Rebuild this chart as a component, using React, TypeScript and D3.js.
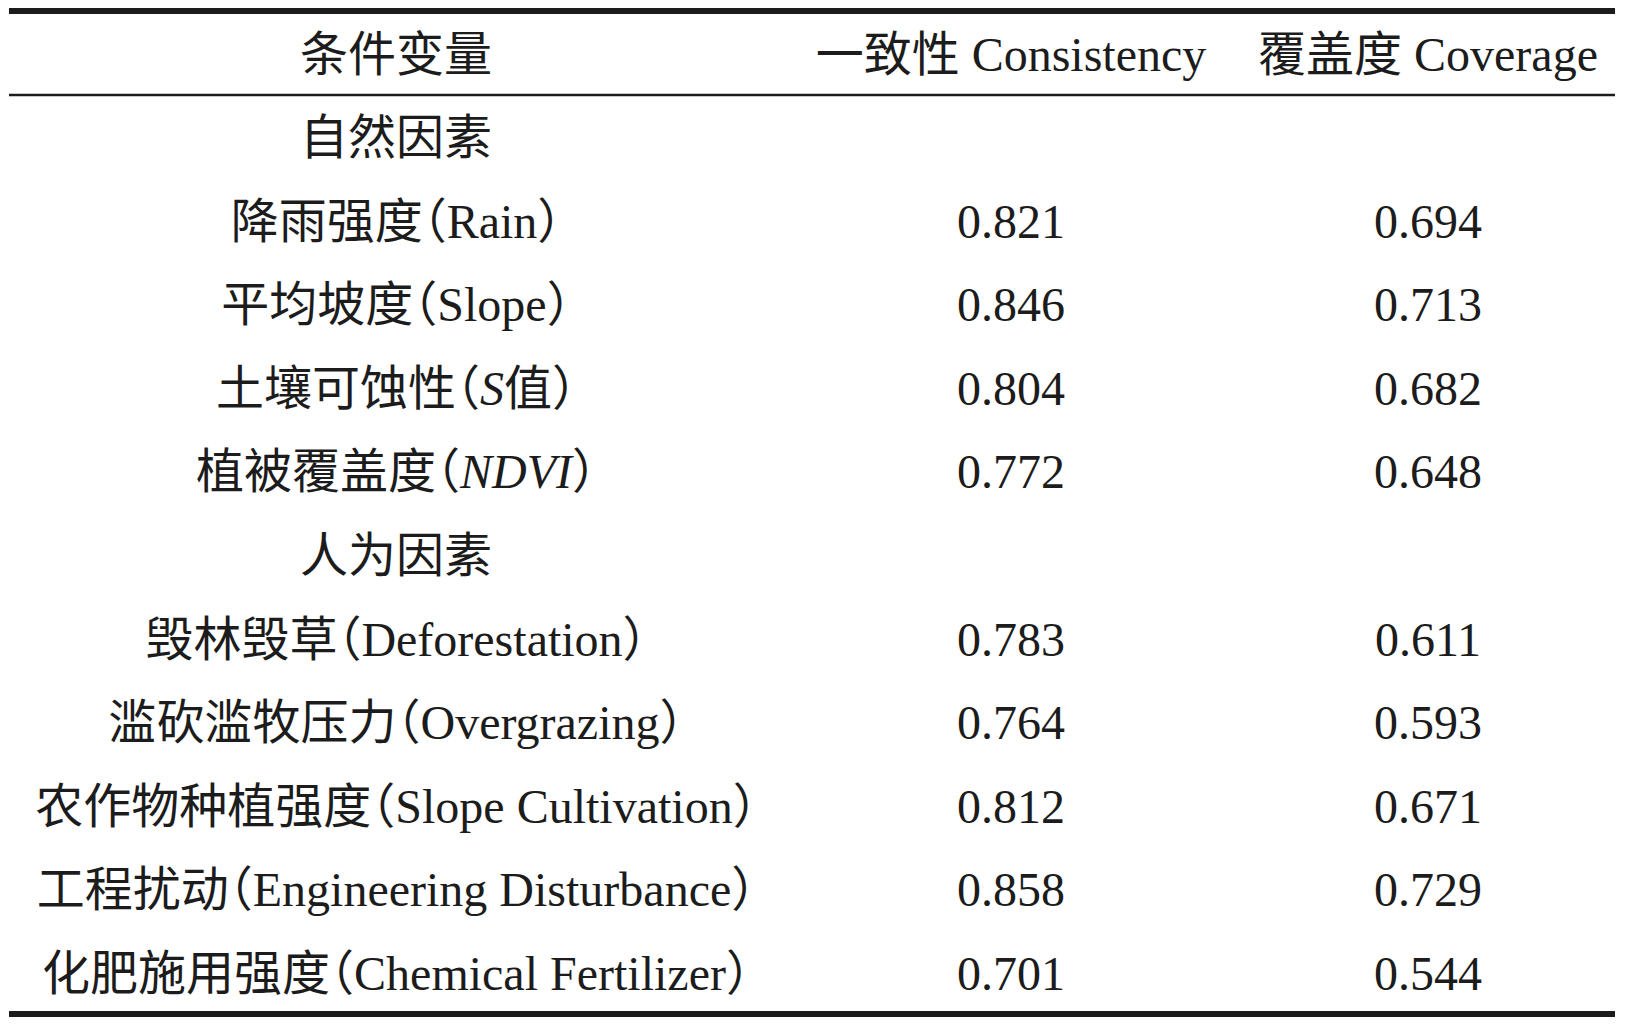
import { scalePoint } from "d3";

const headers = ["条件变量", "一致性 Consistency", "覆盖度 Coverage"];
const groupNames = ["自然因素", "人为因素"];

const naturalVars = ["降雨强度", "平均坡度", "土壤可蚀性", "植被覆盖度"];
const naturalCodes = ["Rain", "Slope", "S值", "NDVI"];
const naturalItalic = [false, false, true, true];
const naturalConsistency = [0.821, 0.846, 0.804, 0.772];
const naturalCoverage = [0.694, 0.713, 0.682, 0.648];

const humanVars = ["毁林毁草", "滥砍滥牧压力", "农作物种植强度", "工程扰动", "化肥施用强度"];
const humanCodes = ["Deforestation", "Overgrazing", "Slope Cultivation", "Engineering Disturbance", "Chemical Fertilizer"];
const humanItalic = [false, false, false, false, false];
const humanConsistency = [0.783, 0.764, 0.812, 0.858, 0.701];
const humanCoverage = [0.611, 0.593, 0.671, 0.729, 0.544];

interface Row {
  key: string;
  name: string;
  code?: string;
  italic?: boolean;
  consistency?: number;
  coverage?: number;
}

const buildRows = (): Row[] => {
  const rows: Row[] = [];
  rows.push({ key: "g0", name: groupNames[0] });
  naturalVars.forEach((n, i) =>
    rows.push({ key: "n" + i, name: n, code: naturalCodes[i], italic: naturalItalic[i], consistency: naturalConsistency[i], coverage: naturalCoverage[i] })
  );
  rows.push({ key: "g1", name: groupNames[1] });
  humanVars.forEach((n, i) =>
    rows.push({ key: "h" + i, name: n, code: humanCodes[i], italic: humanItalic[i], consistency: humanConsistency[i], coverage: humanCoverage[i] })
  );
  return rows;
};

const Label = ({ row }: { row: Row }) => {
  if (!row.code) return <>{row.name}</>;
  if (row.italic) {
    // leading latin letters in italic (S值, NDVI)
    const m = row.code.match(/^([A-Za-z]+)(.*)$/);
    const it = m ? m[1] : row.code;
    const rest = m ? m[2] : "";
    return (
      <>
        {row.name}（<tspan fontStyle="italic">{it}</tspan>
        {rest}）
      </>
    );
  }
  return <>{`${row.name}（${row.code}）`}</>;
};

export default function App() {
  const width = 1625;
  const height = 1028;
  const FONT = "'Liberation Serif', 'Noto Sans CJK SC', serif";
  const FS = 48;
  const INK = "#1c1c1c";
  const BASE = 17; // glyph centre -> baseline

  const rows = buildRows();

  // columns
  const colX = scalePoint<string>().domain(headers).range([396, 1428]);
  const colPos = (i: number) => (i === 1 ? 1011 : colX(headers[i])!);

  // rows
  const rowY = scalePoint<string>()
    .domain(rows.map((r) => r.key))
    .range([137, 973]);

  const ruleY = { top: 11, head: 95, bottom: 1014 };
  const ruleW = { top: 6, head: 2.5, bottom: 6 };

  const textStyle: React.CSSProperties = {
    fontFamily: FONT,
    fontSize: FS,
    fontFeatureSettings: "'halt'",
  };

  return (
    <svg
      width={width}
      height={height}
      style={{ position: "absolute", left: 0, top: 0, background: "#fff" }}
    >
      <rect width={width} height={height} fill="#fff" />
      {(["top", "head", "bottom"] as const).map((k) => (
        <line key={k} x1={9} x2={1615} y1={ruleY[k]} y2={ruleY[k]} stroke={INK} strokeWidth={ruleW[k]} />
      ))}

      {headers.map((h, i) => (
        <text key={h} x={colPos(i)} y={71} textAnchor="middle" fill={INK} style={textStyle}>
          {h}
        </text>
      ))}

      {rows.map((r) => {
        const y = rowY(r.key)! + BASE;
        return (
          <g key={r.key}>
            <text x={colPos(0)} y={y} textAnchor="middle" fill={INK} style={textStyle}>
              <Label row={r} />
            </text>
            {r.consistency !== undefined && (
              <text x={colPos(1)} y={y} textAnchor="middle" fill={INK} style={textStyle}>
                {r.consistency.toFixed(3)}
              </text>
            )}
            {r.coverage !== undefined && (
              <text x={colPos(2)} y={y} textAnchor="middle" fill={INK} style={textStyle}>
                {r.coverage.toFixed(3)}
              </text>
            )}
          </g>
        );
      })}
    </svg>
  );
}
